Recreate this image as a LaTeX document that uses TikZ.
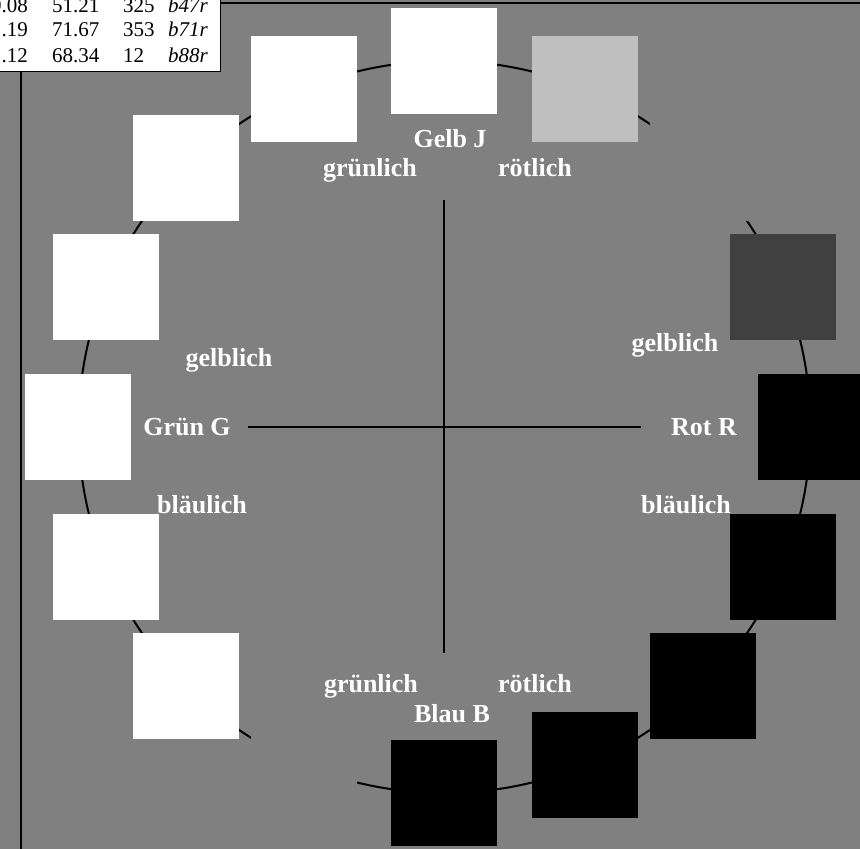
\documentclass[tikz,border=0pt]{standalone}
\usepackage{fontspec}
\setmainfont{Liberation Serif}
\usepackage{xcolor}
\definecolor{bg}{HTML}{808080}
\definecolor{lgray}{HTML}{BFBFBF}
\definecolor{dgray}{HTML}{404040}

\begin{document}
\begin{tikzpicture}[
  x=1pt, y=1pt,
  patch/.style={minimum size=106pt, inner sep=0pt, outer sep=0pt},
  lbl/.style={text=white, anchor=base, inner sep=0pt,
              font=\fontsize{26}{30}\selectfont\bfseries},
  cell/.style={anchor=base west, inner sep=0pt,
               font=\fontsize{21}{25}\selectfont},
  ax/.style={line width=2pt},
]
\useasboundingbox (-443,-422) rectangle (417,427);
\fill[bg] (-443,-422) rectangle (417,427);

% ---------------- frame ----------------
\coordinate (fB) at (-422,-422);
\coordinate (fT) at (-422,424);
\coordinate (fR) at (417,424);
\draw[line width=2.2pt] (fB) -- (fT) -- (fR);

% ---------------- hue circle, axes and colour patches ----------------
\begin{scope}[xshift=1.5pt]
\draw[line width=2pt] (0,0) circle (366pt);

\coordinate (axL) at (-196.5,0);
\coordinate (axR) at (196.5,0);
\coordinate (axT) at (0,227);
\coordinate (axB) at (0,-226);
\draw[ax] (axL) -- (axR);
\draw[ax] (axT) -- (axB);

\node[patch, fill=black] (p0) at (0:366) {};
\node[patch, fill=dgray] (p1) at (22.5:366) {};
\node[patch, fill=bg] (p2) at (45:366) {};
\node[patch, fill=lgray] (p3) at (67.5:366) {};
\node[patch, fill=white] (p4) at (90:366) {};
\node[patch, fill=white] (p5) at (112.5:366) {};
\node[patch, fill=white] (p6) at (135:366) {};
\node[patch, fill=white] (p7) at (157.5:366) {};
\node[patch, fill=white] (p8) at (180:366) {};
\node[patch, fill=white] (p9) at (202.5:366) {};
\node[patch, fill=white] (p10) at (225:366) {};
\node[patch, fill=bg] (p11) at (247.5:366) {};
\node[patch, fill=black] (p12) at (270:366) {};
\node[patch, fill=black] (p13) at (292.5:366) {};
\node[patch, fill=black] (p14) at (315:366) {};
\node[patch, fill=black] (p15) at (337.5:366) {};
\end{scope}

% ---------------- hue names ----------------
\node[lbl] (gelb) at (7,279) {Gelb J};
\node[lbl] (gelbG) at (-73,250) {grünlich};
\node[lbl] (gelbR) at (92,250) {rötlich};
\node[lbl] (gruenJ) at (-214,61) {gelblich};
\node[lbl] (gruen) at (-256,-8) {Grün G};
\node[lbl] (gruenB) at (-241,-86) {bläulich};
\node[lbl] (rotJ) at (232,75) {gelblich};
\node[lbl] (rot) at (261,-8) {Rot R};
\node[lbl] (rotB) at (243,-86) {bläulich};
\node[lbl] (blauG) at (-72,-265) {grünlich};
\node[lbl] (blauR) at (92,-265) {rötlich};
\node[lbl] (blau) at (9,-295) {Blau B};

% ---------------- data table (top left) ----------------
\fill[white] (-443,427) rectangle (-222,355);
\draw[line width=1pt] (-443,355) -- (-222,355) -- (-222,427);

\node[cell, anchor=base east] (t11) at (-415,414) {9.08};
\node[cell] (t12) at (-391,414) {51.21};
\node[cell] (t13) at (-320,414) {325};
\node[cell] (t14) at (-275,414) {\textit{b47r}};
\node[cell, anchor=base east] (t21) at (-415,390) {.19};
\node[cell] (t22) at (-391,390) {71.67};
\node[cell] (t23) at (-320,390) {353};
\node[cell] (t24) at (-275,390) {\textit{b71r}};
\node[cell, anchor=base east] (t31) at (-415,364) {.12};
\node[cell] (t32) at (-391,364) {68.34};
\node[cell] (t33) at (-320,364) {12};
\node[cell] (t34) at (-275,364) {\textit{b88r}};
\end{tikzpicture}
\end{document}
